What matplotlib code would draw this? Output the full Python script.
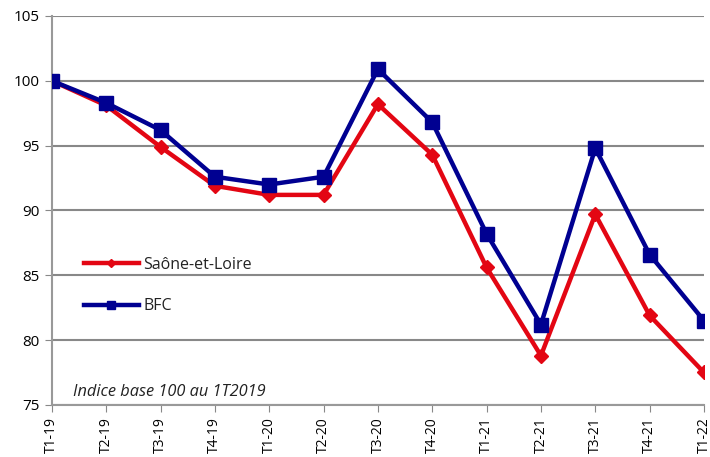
import matplotlib.pyplot as plt

# --- Données ---
trimestres = ['T1-19', 'T2-19', 'T3-19', 'T4-19', 'T1-20', 'T2-20', 'T3-20',
              'T4-20', 'T1-21', 'T2-21', 'T3-21', 'T4-21', 'T1-22']
saone_et_loire = [100, 98.1, 94.9, 91.9, 91.2, 91.2, 98.2, 94.3, 85.6, 78.8, 89.7, 81.9, 77.5]
bfc = [100, 98.3, 96.2, 92.6, 92.0, 92.6, 100.9, 96.8, 88.2, 81.2, 94.8, 86.6, 81.5]

plt.rcParams['font.family'] = ['Open Sans', 'DejaVu Sans']

fig = plt.figure(figsize=(7.1, 4.57), dpi=100)
ax = fig.add_axes([0.073, 0.114, 0.9185, 0.851])

x = list(range(len(trimestres)))
ax.plot(x, saone_et_loire, color='#e30613', lw=3.2, marker='D', ms=7,
        label='Saône-et-Loire', zorder=3)
ax.plot(x, bfc, color='#000091', lw=3.2, marker='s', ms=10,
        label='BFC', zorder=4)

ax.set_ylim(75, 105)
ax.set_yticks(range(75, 106, 5))
ax.set_xlim(0, len(trimestres) - 1)
ax.set_xticks(x)
ax.set_xticklabels(trimestres, rotation=90, fontsize=10)
ax.tick_params(axis='y', labelsize=11, length=5, color='#888888', direction='out', pad=4)
ax.tick_params(axis='x', length=5, color='#888888', direction='out', pad=4)

ax.grid(axis='y', color='#888888', lw=1.5)
ax.set_axisbelow(True)
for s in ['top', 'right']:
    ax.spines[s].set_visible(False)
for s in ['left', 'bottom']:
    ax.spines[s].set_color('#999999')
    ax.spines[s].set_linewidth(1.5)

leg = ax.legend(loc='upper left', bbox_to_anchor=(0.039, 0.397), frameon=False,
                fontsize=11.5, labelspacing=1.6, handlelength=3.45, markerscale=0.6,
                handletextpad=0.3, borderaxespad=0)
for t in leg.get_texts():
    t.set_color('#222222')

ax.text(0.033, 0.013, 'Indice base 100 au 1T2019', transform=ax.transAxes,
        style='italic', fontsize=11.8, color='#222222', va='bottom')

fig.savefig('out.png', dpi=100)
